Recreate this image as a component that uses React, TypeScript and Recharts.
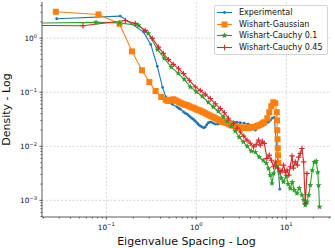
import React from "react";
import { LineChart, Line, XAxis, YAxis, CartesianGrid, Legend } from "recharts";

// Eigenvalue spacing (x) and density (y).
const EXP_X = [0.0281, 0.143, 0.26, 0.312, 0.369, 0.422, 0.458, 0.501, 0.541, 0.61, 0.639, 0.664, 0.722, 0.755, 0.794, 0.825, 0.858, 0.891, 0.926, 0.962, 1.0, 1.039, 1.08, 1.122, 1.166, 1.211, 1.259, 1.308, 1.36, 1.413, 1.468, 1.545, 1.626, 1.733, 1.848, 1.995, 2.154, 2.357, 2.577, 2.818, 3.08, 3.41, 3.78, 4.14, 4.53, 4.95, 5.41, 5.84, 6.31, 6.64, 6.99, 7.36, 8.47];
const EXP_Y = [2.28, 2.55, 1.29, 0.765, 0.3, 0.123, 0.082, 0.071, 0.0598, 0.0533, 0.0504, 0.0484, 0.0431, 0.0408, 0.0391, 0.0367, 0.0349, 0.033, 0.0316, 0.0297, 0.0279, 0.0261, 0.0245, 0.0235, 0.0225, 0.022, 0.0228, 0.025, 0.0272, 0.0279, 0.0279, 0.0267, 0.0256, 0.0256, 0.0264, 0.0267, 0.0272, 0.0279, 0.0282, 0.0279, 0.0272, 0.0267, 0.0256, 0.0245, 0.0198, 0.0225, 0.0245, 0.0256, 0.0279, 0.0302, 0.033, 0.0343, 0.00161];

const GAUSS_X = [0.0275, 0.082, 0.14, 0.193, 0.249, 0.301, 0.353, 0.408, 0.458, 0.476, 0.501, 0.527, 0.555, 0.584, 0.615, 0.647, 0.681, 0.717, 0.755, 0.794, 0.836, 0.88, 0.926, 0.975, 1.026, 1.08, 1.137, 1.196, 1.259, 1.325, 1.394, 1.468, 1.545, 1.626, 1.711, 1.8, 1.896, 1.995, 2.1, 2.21, 2.326, 2.45, 2.577, 2.71, 2.855, 3.0, 3.16, 3.33, 3.5, 3.69, 3.88, 4.08, 4.3, 4.53, 4.76, 5.01, 5.27, 5.48, 5.7, 6.15, 6.47, 6.81, 7.17, 7.55, 7.84, 7.9, 7.94, 8.0, 8.05, 8.1, 8.15];
const GAUSS_Y = [3.07, 2.74, 1.84, 0.568, 0.254, 0.154, 0.105, 0.0815, 0.0724, 0.0694, 0.0694, 0.072, 0.074, 0.071, 0.068, 0.0651, 0.0624, 0.0598, 0.0586, 0.0573, 0.055, 0.0526, 0.0516, 0.0494, 0.0473, 0.0464, 0.0444, 0.0426, 0.0408, 0.0391, 0.0375, 0.0359, 0.0344, 0.033, 0.0316, 0.0302, 0.029, 0.0281, 0.0272, 0.0267, 0.0256, 0.0245, 0.024, 0.0235, 0.023, 0.0225, 0.022, 0.022, 0.022, 0.0216, 0.022, 0.0225, 0.0225, 0.023, 0.024, 0.0245, 0.0256, 0.0267, 0.0279, 0.033, 0.0426, 0.055, 0.0651, 0.0624, 0.0426, 0.03, 0.0198, 0.0135, 0.0092, 0.0068, 0.0049];

const C01_X = [0.015, 0.0769, 0.14, 0.228, 0.293, 0.372, 0.441, 0.527, 0.631, 0.736, 0.858, 1.0, 1.166, 1.36, 1.545, 1.755, 1.995, 2.21, 2.45, 2.71, 3.0, 3.33, 3.69, 4.08, 4.53, 5.01, 5.55, 6.0, 6.36, 6.64, 6.94, 7.22, 7.74, 8.36, 8.8, 9.33, 10.0, 10.5, 11.07, 11.66, 12.27, 13.14, 13.94, 14.94, 15.64, 16.26, 16.98, 17.78, 18.49, 19.44, 20.46, 21.5, 22.4, 22.86, 23.4];
const C01_Y = [1.89, 1.95, 1.91, 1.71, 1.22, 0.61, 0.422, 0.291, 0.223, 0.173, 0.125, 0.1017, 0.084, 0.0651, 0.0533, 0.0444, 0.0349, 0.029, 0.0235, 0.019, 0.0147, 0.012, 0.01, 0.0081, 0.0078, 0.0063, 0.0055, 0.0049, 0.0039, 0.00293, 0.00206, 0.00315, 0.0043, 0.0033, 0.00258, 0.0022, 0.0028, 0.002, 0.00166, 0.00218, 0.00155, 0.00135, 0.00169, 0.00125, 0.00101, 0.00082, 0.00094, 0.00125, 0.00192, 0.0036, 0.0051, 0.0053, 0.0033, 0.0019, 0.00076];

const C045_X = [0.015, 0.0551, 0.163, 0.21, 0.271, 0.324, 0.38, 0.43, 0.49, 0.555, 0.636, 0.722, 0.836, 0.975, 1.108, 1.259, 1.43, 1.626, 1.848, 2.05, 2.27, 2.6, 2.85, 3.08, 3.37, 3.66, 3.98, 4.33, 4.64, 4.92, 5.14, 5.41, 5.7, 6.1, 6.47, 6.81, 7.22, 7.55, 8.05, 8.58, 8.96, 9.33, 9.75, 10.18, 10.66, 11.07, 11.57, 11.96, 12.59, 13.25, 13.76, 14.31, 14.94, 15.57, 16.26, 16.98];
const C045_Y = [1.71, 1.69, 2.12, 1.87, 1.39, 0.987, 0.682, 0.522, 0.4, 0.327, 0.272, 0.22, 0.166, 0.125, 0.108, 0.0915, 0.0762, 0.061, 0.0498, 0.0417, 0.033, 0.0264, 0.0216, 0.0184, 0.0154, 0.013, 0.0114, 0.0097, 0.0109, 0.013, 0.0105, 0.0124, 0.0113, 0.00596, 0.00685, 0.0055, 0.00417, 0.0051, 0.00394, 0.00337, 0.0035, 0.00448, 0.0033, 0.00362, 0.00293, 0.00417, 0.00665, 0.00394, 0.00515, 0.00448, 0.0063, 0.0074, 0.0091, 0.00515, 0.00088, 0.00315];

const SERIES_NAMES = ["Experimental", "Wishart-Gaussian", "Wishart-Cauchy 0.1", "Wishart-Cauchy 0.45"];
const COLORS = ["#1f77b4", "#ff7f0e", "#2ca02c", "#d62728"];
const MARKERS = ["circle", "square", "star", "plus"];

const X_DOMAIN = [0.0193, 31.4];
const Y_DOMAIN = [4.92e-4, 4.65];

const X_MAJOR = [0.1, 1, 10];
const X_MAJOR_EXP = ["\u22121", "0", "1"];
const X_MINOR = [0.02, 0.03, 0.04, 0.05, 0.06, 0.07, 0.08, 0.09, 0.2, 0.3, 0.4, 0.5, 0.6, 0.7, 0.8, 0.9, 2, 3, 4, 5, 6, 7, 8, 9, 20, 30];
const Y_MAJOR = [0.001, 0.01, 0.1, 1];
const Y_MAJOR_EXP = ["\u22123", "\u22122", "\u22121", "0"];
const Y_MINOR = [5e-4, 6e-4, 7e-4, 8e-4, 9e-4, 0.002, 0.003, 0.004, 0.005, 0.006, 0.007, 0.008, 0.009, 0.02, 0.03, 0.04, 0.05, 0.06, 0.07, 0.08, 0.09, 0.2, 0.3, 0.4, 0.5, 0.6, 0.7, 0.8, 0.9, 2, 3, 4];

const FONT = "'DejaVu Sans', sans-serif";
const AXIS_COLOR = "#333";

const zip = (xs: number[], ys: number[]) => xs.map((x, i) => ({ x, y: ys[i] }));
const SERIES = [zip(EXP_X, EXP_Y), zip(GAUSS_X, GAUSS_Y), zip(C01_X, C01_Y), zip(C045_X, C045_Y)];

function starPoints(cx: number, cy: number, r: number) {
  const pts: string[] = [];
  for (let k = 0; k < 10; k++) {
    const a = (-90 + k * 36) * (Math.PI / 180);
    const rr = k % 2 === 0 ? r : r * 0.45;
    pts.push(`${cx + rr * Math.cos(a)},${cy + rr * Math.sin(a)}`);
  }
  return pts.join(" ");
}

function Marker({ kind, cx, cy, color }: { kind: string; cx: number; cy: number; color: string }) {
  if (kind === "circle") return <circle cx={cx} cy={cy} r={1.4} fill={color} />;
  if (kind === "square") return <rect x={cx - 3} y={cy - 3} width={6} height={6} fill={color} />;
  if (kind === "star") return <polygon points={starPoints(cx, cy, 3.1)} fill={color} />;
  return (
    <path
      d={`M${cx - 2.7},${cy}H${cx + 2.7}M${cx},${cy - 2.7}V${cy + 2.7}`}
      stroke={color}
      strokeWidth={1.1}
    />
  );
}

const dotFor = (kind: string, color: string) => (p: any) => {
  if (p.cx == null || p.cy == null || isNaN(p.cx) || isNaN(p.cy)) return <g key={p.index} />;
  return <Marker key={p.index} kind={kind} cx={p.cx} cy={p.cy} color={color} />;
};

function XTick(props: any) {
  const { x, y, payload } = props;
  const i = X_MAJOR.indexOf(payload.value);
  const major = i >= 0;
  return (
    <g>
      <line x1={x} x2={x} y1={y} y2={y + (major ? 2.6 : 1.5)} stroke={AXIS_COLOR} strokeWidth={0.8} />
      {major && (
        <text x={x} y={y + 12.5} textAnchor="middle" fontSize={7.3} fontFamily={FONT} fill="#111">
          10
          <tspan dy={-3.2} fontSize={5.2}>
            {X_MAJOR_EXP[i]}
          </tspan>
        </text>
      )}
    </g>
  );
}

function YTick(props: any) {
  const { x, y, payload } = props;
  const i = Y_MAJOR.indexOf(payload.value);
  const major = i >= 0;
  return (
    <g>
      <line x1={x - (major ? 2.6 : 1.5)} x2={x} y1={y} y2={y} stroke={AXIS_COLOR} strokeWidth={0.8} />
      {major && (
        <text x={x - 5} y={y + 2.7} textAnchor="end" fontSize={7.3} fontFamily={FONT} fill="#111">
          10
          <tspan dy={-3.2} fontSize={5.2}>
            {Y_MAJOR_EXP[i]}
          </tspan>
        </text>
      )}
    </g>
  );
}

function LegendBox() {
  return (
    <div
      style={{
        boxSizing: "border-box",
        width: 114,
        border: "1px solid #d4d4d4",
        borderRadius: 2,
        background: "rgba(255,255,255,0.85)",
        padding: "1px 0 1px 2px",
        fontFamily: FONT,
        fontSize: 8,
        color: "#111",
      }}
    >
      {SERIES_NAMES.map((name, i) => (
        <div key={name} style={{ display: "flex", alignItems: "center", height: 11.5 }}>
          <svg width={15} height={11} style={{ marginRight: 7, flex: "none" }}>
            <line x1={0} x2={15} y1={5.5} y2={5.5} stroke={COLORS[i]} strokeWidth={1.1} />
            <Marker kind={MARKERS[i]} cx={7.5} cy={5.5} color={COLORS[i]} />
          </svg>
          <span style={{ whiteSpace: "nowrap", lineHeight: "11.5px" }}>{name}</span>
        </div>
      ))}
    </div>
  );
}

export default function App() {
  return (
    <div style={{ position: "absolute", left: 0, top: 0, width: 335, height: 248, background: "#fff" }}>
      <LineChart width={335} height={248} margin={{ top: 2, right: 4, bottom: 0, left: 0 }}>
        <CartesianGrid
          horizontal
          vertical
          horizontalValues={Y_MAJOR}
          verticalValues={X_MAJOR}
          stroke="#c8c8c8"
          strokeWidth={0.7}
          strokeDasharray="2.2 1.6"
        />
        <XAxis
          dataKey="x"
          type="number"
          scale="log"
          domain={X_DOMAIN}
          allowDataOverflow
          ticks={[...X_MAJOR, ...X_MINOR]}
          interval={0}
          tick={<XTick />}
          tickLine={false}
          tickSize={0}
          tickMargin={0}
          height={31}
          axisLine={{ stroke: AXIS_COLOR, strokeWidth: 0.8 }}
          label={{
            content: () => (
              <text x={186.5} y={245} textAnchor="middle" fontSize={11} fontFamily={FONT} fill="#111">
                Eigenvalue Spacing - Log
              </text>
            ),
          }}
        />
        <XAxis
          xAxisId="top"
          orientation="top"
          dataKey="x"
          type="number"
          scale="log"
          domain={X_DOMAIN}
          allowDataOverflow
          height={0}
          tick={false}
          tickLine={false}
          axisLine={{ stroke: AXIS_COLOR, strokeWidth: 0.8 }}
        />
        <YAxis
          dataKey="y"
          type="number"
          scale="log"
          domain={Y_DOMAIN}
          allowDataOverflow
          ticks={[...Y_MAJOR, ...Y_MINOR]}
          interval={0}
          tick={<YTick />}
          tickLine={false}
          tickSize={0}
          tickMargin={0}
          width={42}
          axisLine={{ stroke: AXIS_COLOR, strokeWidth: 0.8 }}
          label={{
            content: () => (
              <text
                x={10}
                y={109.5}
                transform="rotate(-90 10 109.5)"
                textAnchor="middle"
                fontSize={11}
                fontFamily={FONT}
                fill="#111"
              >
                Density - Log
              </text>
            ),
          }}
        />
        <YAxis
          yAxisId="right"
          orientation="right"
          dataKey="y"
          type="number"
          scale="log"
          domain={Y_DOMAIN}
          allowDataOverflow
          width={0}
          tick={false}
          tickLine={false}
          axisLine={{ stroke: AXIS_COLOR, strokeWidth: 0.8 }}
        />
        {SERIES.map((data, i) => (
          <Line
            key={SERIES_NAMES[i]}
            name={SERIES_NAMES[i]}
            data={data}
            dataKey="y"
            type="linear"
            stroke={COLORS[i]}
            strokeWidth={1.1}
            dot={dotFor(MARKERS[i], COLORS[i])}
            activeDot={false}
            isAnimationActive={false}
          />
        ))}
        <Legend
          layout="vertical"
          align="center"
          verticalAlign="middle"
          wrapperStyle={{ top: 5, left: 214, width: 114 }}
          content={() => <LegendBox />}
        />
      </LineChart>
    </div>
  );
}
